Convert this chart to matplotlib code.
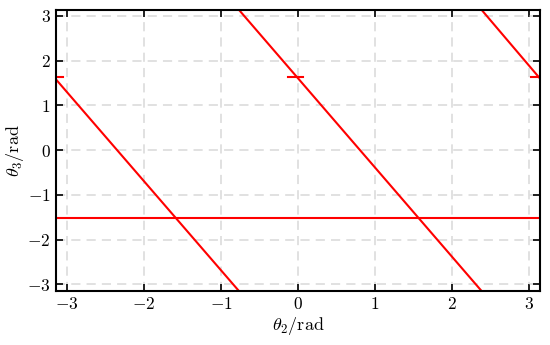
import numpy as np
import matplotlib
matplotlib.use('Agg')
import matplotlib.pyplot as plt

plt.rcParams['font.family'] = 'serif'
plt.rcParams['font.serif'] = ['cmr10']
plt.rcParams['mathtext.fontset'] = 'cm'
plt.rcParams['axes.formatter.use_mathtext'] = True
plt.rcParams['axes.unicode_minus'] = True

PI = np.pi

# line segments (theta2, theta3)
seg1_x = [-PI, -0.77]
seg1_y = [1.58, -PI]
seg2_x = [-0.77, 2.38]
seg2_y = [PI, -PI]
seg3_x = [2.38, PI]
seg3_y = [PI, 1.60]
hline_x = [-PI, PI]
hline_y = [-1.52, -1.52]

# short horizontal pieces near theta3 ~ 1.64
dash_x = [[-PI, -3.05], [-0.13, 0.07], [3.02, PI]]
dash_y = [1.64, 1.64, 1.64]

ticks = [-3, -2, -1, 0, 1, 2, 3]

fig = plt.figure(figsize=(5.5, 3.45), dpi=100)
ax = fig.add_axes([0.102, 0.157, 0.88, 0.815])

red = '#ff0000'
lw = 1.5
for xs, ys in [(seg1_x, seg1_y), (seg2_x, seg2_y), (seg3_x, seg3_y), (hline_x, hline_y)]:
    ax.plot(xs, ys, color=red, lw=lw)
for xs, yv in zip(dash_x, dash_y):
    ax.plot(xs, [yv, yv], color=red, lw=lw)

ax.set_xlim(-PI, PI)
ax.set_ylim(-PI, PI)
ax.set_xticks(ticks)
ax.set_yticks(ticks)
ax.grid(True, ls=(0, (6, 4)), color='#d9d9d9', lw=1.1)
ax.set_axisbelow(True)
ax.tick_params(direction='in', top=True, right=True, length=5, width=1.2, labelsize=12.5, pad=4)
for s in ax.spines.values():
    s.set_linewidth(1.5)

ax.set_xlabel(r'$\theta_2/\mathrm{rad}$', fontsize=13, labelpad=2)
ax.set_ylabel(r'$\theta_3/\mathrm{rad}$', fontsize=13, labelpad=1)

plt.savefig('out.png', dpi=100)
